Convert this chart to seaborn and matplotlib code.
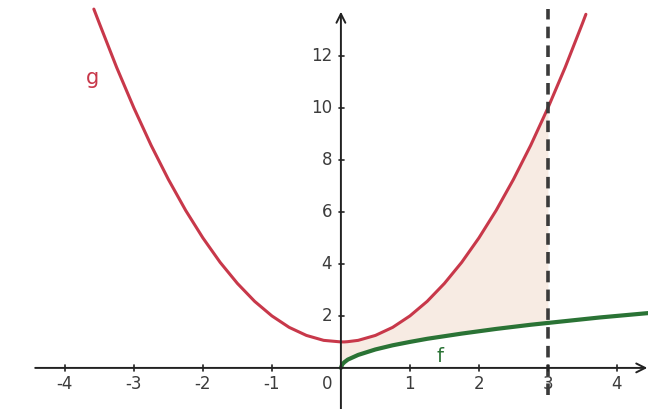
import numpy as np
import pandas as pd
import matplotlib
matplotlib.use("Agg")
import matplotlib.pyplot as plt
import seaborn as sns

# values
g_x = [-3.58, -3.5, -3.25, -3.0, -2.75, -2.5, -2.25, -2.0, -1.75, -1.5, -1.25, -1.0,
       -0.75, -0.5, -0.25, 0.0, 0.05, 0.1, 0.25, 0.5, 0.75, 1.0, 1.25, 1.5, 1.75,
       2.0, 2.25, 2.5, 2.75, 3.0, 3.25, 3.5, 3.55]
g_y = [13.8, 13.25, 11.56, 10.0, 8.56, 7.25, 6.06, 5.0, 4.06, 3.25, 2.56, 2.0,
       1.56, 1.25, 1.06, 1.0, 1.0, 1.01, 1.06, 1.25, 1.56, 2.0, 2.56, 3.25, 4.06,
       5.0, 6.06, 7.25, 8.56, 10.0, 11.56, 13.25, 13.6]

f_x = [0.0, 0.02, 0.05, 0.1, 0.25, 0.5, 0.75, 1.0, 1.25, 1.5, 1.75, 2.0, 2.25,
       2.5, 2.75, 3.0, 3.25, 3.5, 3.75, 4.0, 4.25, 4.5]
f_y = [0.0, 0.14, 0.22, 0.32, 0.5, 0.71, 0.87, 1.0, 1.12, 1.22, 1.32, 1.41, 1.5,
       1.58, 1.66, 1.73, 1.8, 1.87, 1.94, 2.0, 2.06, 2.12]

x_ticks = [-4, -3, -2, -1, 1, 2, 3, 4]
y_ticks = [2, 4, 6, 8, 10, 12]
x_line = 3

g_df = pd.DataFrame({"x": g_x, "y": g_y})
f_df = pd.DataFrame({"x": f_x, "y": f_y})
area = g_df.merge(f_df, on="x", suffixes=("_g", "_f"))
area = area[(area["x"] >= 0) & (area["x"] <= x_line)]

sns.set_style("white")
plt.rcParams["font.family"] = ["DejaVu Sans"]

fig = plt.figure(figsize=(6.48, 4.09), dpi=100)
ax = fig.add_axes([0, 0, 1, 1])
ax.set_xlim(-4.94, 4.45)
ax.set_ylim(-1.58, 14.15)
for s in ax.spines.values():
    s.set_visible(False)
ax.set_xticks([])
ax.set_yticks([])

red = "#c8384a"
green = "#2a7335"
grey = "#3a3a3a"
txt = "#3c3c3c"

ax.fill_between(area["x"], area["y_f"], area["y_g"], color="#eed3c3", alpha=0.45, lw=0, zorder=1)

sns.lineplot(data=g_df, x="x", y="y", color=red, lw=2.2, sort=False, ax=ax, zorder=3)
sns.lineplot(data=f_df, x="x", y="y", color=green, lw=3, sort=False, ax=ax, zorder=3)
ax.set_xlabel("")
ax.set_ylabel("")

ax.plot([x_line, x_line], [-1.05, 13.8], color=grey, lw=2.6, ls=(0, (3.2, 2)), zorder=4)

# axes with arrows
ax.annotate("", xy=(4.44, 0), xytext=(-4.43, 0),
            arrowprops=dict(arrowstyle="->", color="#222222", lw=1.4,
                            mutation_scale=16, shrinkA=0, shrinkB=0), zorder=5)
ax.annotate("", xy=(0, 13.7), xytext=(0, -1.58),
            arrowprops=dict(arrowstyle="->", color="#222222", lw=1.4,
                            mutation_scale=16, shrinkA=0, shrinkB=0), zorder=5)

for t in x_ticks:
    ax.plot([t, t], [-0.12, 0.12], color="#222222", lw=1.2, zorder=5)
    ax.text(t, -0.6, str(t), ha="center", va="center",
            fontsize=12, color=txt)
for t in y_ticks:
    ax.plot([-0.03, 0.05], [t, t], color="#222222", lw=1.2, zorder=5)
    ax.text(-0.13, t, str(t), ha="right", va="center", fontsize=12, color=txt)
ax.text(-0.2, -0.6, "0", ha="center", va="center", fontsize=12, color=txt)

ax.text(-3.6, 11.15, "g", ha="center", va="center", fontsize=15, color=red)
ax.text(1.43, 0.45, "f", ha="center", va="center", fontsize=14, color=green)

fig.savefig("out.png", dpi=100)
